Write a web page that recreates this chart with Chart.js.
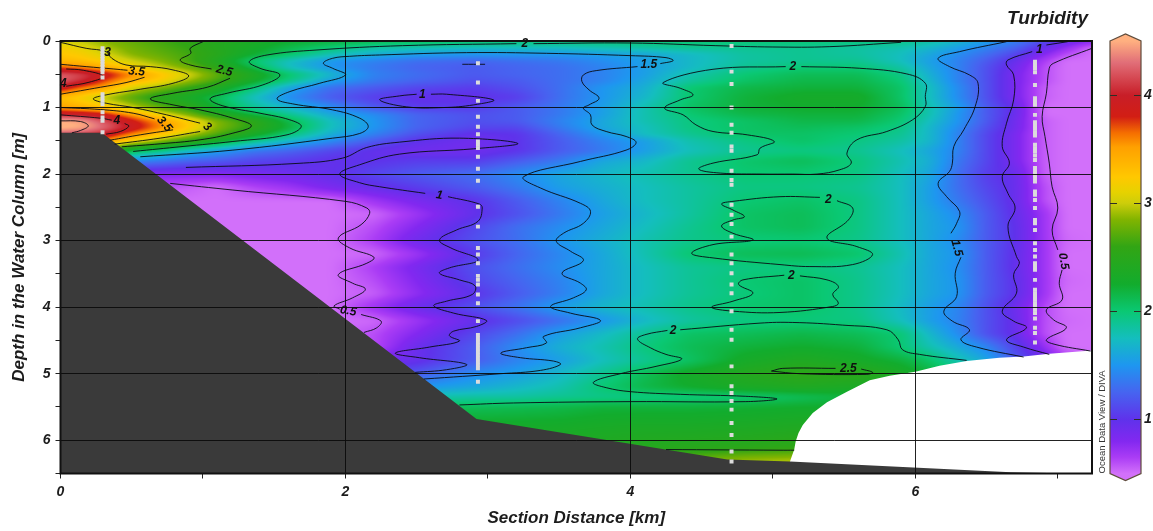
<!DOCTYPE html>
<html>
<head>
<meta charset="utf-8">
<title>Turbidity section</title>
<script src="https://cdn.jsdelivr.net/npm/chart.js@4"></script>
<style>
  html, body { margin: 0; background: #fff; }
  canvas { display: block; filter: blur(0.35px); }
</style>
</head>
<body>
<canvas id="section-chart" width="1153" height="531"></canvas>
<script>
// km / m positions of the hand read turbidity grid
const distances = [0, .15, .3, .5, .7, .9, 1.1, 1.35, 1.6, 1.9, 2.2, 2.5, 2.9, 3.2, 3.5, 3.8, 4.1, 4.4, 4.8, 5.2, 5.6, 5.9, 6.1, 6.3, 6.5, 6.7, 6.9, 7.05, 7.24];
const depths = [0, .1, .2, .3, .4, .5, .6, .7, .85, 1, 1.1, 1.2, 1.3, 1.4, 1.5, 1.65, 1.8, 2, 2.2, 2.4, 2.6, 2.8, 3, 3.2, 3.4, 3.6, 3.8, 4, 4.2, 4.4, 4.6, 4.8, 5, 5.2, 5.35, 5.5, 5.8, 6.1, 6.3];
const turbidity = [
  [3,2.95,2.85,2.75,2.65,2.55,2.45,2.35,2.25,2.2,2.15,2.1,2.05,2,2,2,2,2,2,2,1.98,1.95,1.85,1.7,1.55,1.4,1.15,.95,.8],
  [3.2,3.1,2.95,2.8,2.7,2.6,2.45,2.3,2.15,2,1.85,1.8,1.75,1.75,1.75,1.8,1.85,1.9,1.9,1.9,1.85,1.8,1.7,1.55,1.4,1.25,.95,.75,.5],
  [3.25,3.2,3.05,2.85,2.75,2.65,2.5,2.25,2.05,1.8,1.65,1.55,1.5,1.5,1.5,1.55,1.6,1.7,1.85,1.9,1.85,1.75,1.6,1.45,1.3,1.1,.8,.6,.5],
  [3.35,3.3,3.2,3,2.85,2.65,2.4,2,1.75,1.5,1.4,1.3,1.25,1.3,1.35,1.45,1.55,1.7,1.85,1.9,1.9,1.75,1.55,1.4,1.2,.95,.65,.5,.5],
  [3.7,3.6,3.45,3.2,3,2.8,2.55,2.15,1.75,1.5,1.35,1.25,1.2,1.25,1.3,1.4,1.55,1.7,1.9,2,2,1.85,1.6,1.4,1.15,.9,.6,.5,.5],
  [4.25,4.15,3.95,3.6,3.3,3.05,2.75,2.4,2.05,1.7,1.4,1.3,1.2,1.25,1.3,1.4,1.55,1.8,2,2.1,2.1,1.95,1.65,1.4,1.15,.85,.6,.5,.5],
  [4.25,4.05,3.75,3.4,3.2,2.9,2.65,2.3,1.95,1.55,1.35,1.25,1.15,1.2,1.3,1.4,1.6,1.85,2.05,2.15,2.15,2,1.7,1.4,1.15,.85,.6,.5,.5],
  [3.95,3.65,3.5,3.05,2.85,2.6,2.4,2,1.6,1.3,1.2,1.1,1.05,1.15,1.3,1.5,1.65,2,2.15,2.2,2.2,2.05,1.75,1.45,1.15,.85,.55,.5,.5],
  [3.3,3.15,2.95,2.7,2.45,2.3,2.1,1.75,1.45,1.2,1.05,.97,.97,1.05,1.3,1.5,1.7,2,2.2,2.3,2.3,2.05,1.75,1.45,1.15,.85,.55,.5,.5],
  [3.5,3.4,3.3,3,2.75,2.55,2.2,1.9,1.7,1.45,1.2,1.05,1.05,1.2,1.35,1.55,1.8,2.05,2.2,2.25,2.25,2.1,1.8,1.55,1.2,.95,.5,.5,.5],
  [4,3.95,3.85,3.5,3.1,2.8,2.45,2.15,1.9,1.6,1.45,1.25,1.15,1.2,1.35,1.55,1.8,2,2.15,2.2,2.2,2.05,1.8,1.5,1.2,.95,.5,.5,.5],
  [4.5,4.45,4.2,3.85,3.55,3.2,2.85,2.55,2.15,1.75,1.5,1.25,1.15,1.2,1.4,1.6,1.8,1.95,2.05,2.15,2.15,2,1.75,1.5,1.2,.9,.55,.5,.5],
  [4.55,4.5,4.3,3.95,3.6,3.25,2.85,2.55,2.2,1.75,1.5,1.25,1.1,1.1,1.35,1.6,1.75,1.95,2.05,2.1,2.05,1.95,1.7,1.45,1.15,.9,.55,.5,.5],
  [4.2,4.15,4,3.6,3.3,3,2.7,2.35,2,1.65,1.4,1.15,.97,1,1.25,1.5,1.75,1.9,2.05,2.05,2,1.9,1.7,1.4,1.1,.85,.55,.5,.5],
  [3.9,3.8,3.6,3.2,2.9,2.6,2.3,1.95,1.7,1.45,1.2,1,.9,1,1.2,1.4,1.55,1.8,1.95,2.05,1.95,1.85,1.7,1.4,1.1,.85,.55,.5,.5],
  [3,3,2.8,2.1,1.95,1.7,1.55,1.35,1.25,1.1,.97,.9,.9,1,1.2,1.35,1.55,1.75,1.9,1.95,1.9,1.75,1.6,1.4,1.1,.85,.55,.5,.5],
  [1.5,1.5,1.5,1.45,1.35,1.25,1.2,1.1,1.05,.98,1,1.05,1.05,1.2,1.35,1.6,1.7,1.9,2.03,2.1,1.97,1.8,1.65,1.35,1.1,.85,.55,.5,.5],
  [.8,.8,.8,.8,.8,.8,.8,.85,.9,.98,1.1,1.2,1.3,1.45,1.6,1.7,1.8,1.9,2,2,1.95,1.75,1.6,1.3,1.05,.95,.55,.5,.5],
  [.6,.6,.6,.6,.6,.55,.5,.62,.7,.85,.95,1.05,1.2,1.35,1.55,1.65,1.75,1.85,1.95,1.95,1.9,1.75,1.55,1.3,1.1,.95,.6,.5,.5],
  [.5,.5,.5,.5,.5,.5,.5,.5,.5,.5,.7,.85,1,1.2,1.4,1.6,1.75,1.85,2,2.05,1.95,1.75,1.55,1.35,1.15,.95,.6,.5,.5],
  [.5,.5,.5,.5,.5,.5,.5,.5,.5,.5,.52,.7,.97,1.15,1.35,1.55,1.7,1.85,2.05,2.1,1.95,1.75,1.6,1.45,1.2,.97,.7,.5,.5],
  [.5,.5,.5,.5,.5,.5,.5,.5,.5,.5,.6,.8,1.1,1.3,1.45,1.6,1.75,1.9,2.05,2.1,1.95,1.75,1.6,1.5,1.2,1,.7,.5,.5],
  [.5,.5,.5,.5,.5,.5,.5,.5,.5,.5,.65,.9,1.15,1.3,1.5,1.65,1.8,1.92,1.98,2,1.93,1.75,1.6,1.45,1.2,1,.7,.52,.5],
  [.5,.5,.5,.5,.5,.5,.5,.5,.5,.5,.52,.7,1.03,1.25,1.42,1.6,1.8,2,2.1,2.12,2.03,1.8,1.6,1.5,1.2,.98,.7,.5,.5],
  [.5,.5,.5,.5,.5,.5,.5,.5,.5,.5,.65,.85,1.15,1.3,1.45,1.6,1.75,1.88,1.95,1.97,1.9,1.75,1.6,1.47,1.2,.97,.7,.5,.5],
  [.5,.5,.5,.5,.5,.5,.5,.5,.5,.5,.6,.8,1.1,1.25,1.4,1.6,1.75,1.88,2,2.05,1.92,1.75,1.6,1.5,1.2,1,.7,.52,.5],
  [.5,.5,.5,.5,.5,.5,.5,.5,.5,.5,.55,.75,1,1.2,1.38,1.6,1.75,1.88,1.98,2.05,1.92,1.75,1.6,1.5,1.2,1,.7,.5,.5],
  [.5,.5,.5,.5,.5,.5,.5,.5,.5,.5,.7,.92,1.15,1.32,1.55,1.7,1.8,1.92,2.02,2.05,1.92,1.72,1.55,1.42,1.15,.92,.62,.5,.5],
  [.5,.5,.5,.5,.5,.5,.5,.5,.5,.5,.52,.7,.95,1.12,1.3,1.5,1.7,1.85,1.95,1.98,1.95,1.75,1.55,1.4,1.15,.95,.6,.52,.5],
  [.5,.5,.5,.5,.5,.5,.5,.5,.5,.5,.6,.8,1.1,1.3,1.55,1.72,1.9,2.05,2.1,2.15,2.1,2,1.7,1.45,1.15,.95,.6,.5,.5],
  [.6,.6,.6,.6,.6,.6,.6,.6,.6,.6,.6,.93,1.2,1.45,1.65,1.8,1.97,2.1,2.2,2.25,2.2,2,1.8,1.62,1.42,1.1,.75,.5,.5],
  [.8,.8,.8,.8,.8,.8,.8,.8,.8,.8,.85,.95,1.2,1.4,1.55,1.75,1.9,2.05,2.3,2.4,2.3,2.2,2.05,1.8,1.6,1.2,.95,.7,.5],
  [1,1,1,1,1,1,1,1,1,1,1.1,1.2,1.45,1.55,1.7,1.9,2.1,2.3,2.45,2.55,2.52,2.35,2.2,2,2,2,2,2,2],
  [1.4,1.4,1.4,1.4,1.4,1.4,1.4,1.4,1.4,1.4,1.4,1.5,1.6,1.7,1.8,2,2.15,2.25,2.35,2.4,2.35,2.3,2.3,2.3,2.3,2.3,2.3,2.3,2.3],
  [1.8,1.8,1.8,1.8,1.8,1.8,1.8,1.8,1.8,1.8,1.8,1.8,1.85,1.85,1.9,1.93,1.95,1.97,2,2.1,2.2,2.2,2.2,2.2,2.2,2.2,2.2,2.2,2.2],
  [2.1,2.1,2.1,2.1,2.1,2.1,2.1,2.1,2.1,2.1,2.1,2.1,2.1,2.12,2.15,2.2,2.2,2.2,2.22,2.25,2.25,2.25,2.25,2.25,2.25,2.25,2.25,2.25,2.25],
  [2.3,2.3,2.3,2.3,2.3,2.3,2.3,2.3,2.3,2.3,2.3,2.3,2.3,2.3,2.3,2.33,2.35,2.35,2.37,2.4,2.4,2.4,2.4,2.4,2.4,2.4,2.4,2.4,2.4],
  [2.4,2.4,2.4,2.4,2.4,2.4,2.4,2.4,2.4,2.4,2.4,2.4,2.4,2.4,2.4,2.42,2.45,2.47,2.5,2.55,2.55,2.55,2.55,2.55,2.55,2.55,2.55,2.55,2.55],
  [2.6,2.6,2.6,2.6,2.6,2.6,2.6,2.6,2.6,2.6,2.6,2.6,2.6,2.6,2.6,2.6,2.65,2.75,2.9,2.95,2.95,2.95,2.95,2.95,2.95,2.95,2.95,2.95,2.95]
];

// colour bar: value, r, g, b
const paletteStops = [
  [.5,210,112,250],[.65,170,60,245],[.8,130,40,240],[1,95,50,235],[1.25,70,100,240],[1.5,30,150,240],
  [1.75,20,190,190],[2,10,200,115],[2.25,18,172,45],[2.6,50,165,20],[2.85,130,180,0],[3,205,205,10],
  [3.1,230,210,0],[3.24,255,200,0],[3.52,255,160,0],[3.65,245,110,0],[3.8,210,30,20],[4,200,30,40],
  [4.3,225,110,120],[4.5,255,176,128]
];
const colorbarTicks = [1, 2, 3, 4];

const bottomDomain = [[5.12,6.5],[5.12,6.32],[5.15,6.14],[5.16,6.02],[5.18,5.89],[5.21,5.77],[5.28,5.59],[5.38,5.43],[5.52,5.27],[5.68,5.1],[5.82,5.03],[6,4.97],[6.17,4.88],[6.36,4.81],[6.59,4.76],[6.76,4.74],[6.94,4.7],[7.24,4.65]];
const seabed = [[0,1.38],[.29,1.38],[2.92,5.68],[4.68,6.29],[5.12,6.32],[6.67,6.48],[7.1,6.5]];

// sample positions (km, then depths)
const stationKm = [.295, 2.93, 4.71, 6.84];
const stationDepths = [
  [.11,.15,.19,.23,.27,.31,.35,.39,.43,.47,.55,.8,.85,.9,.95,1.07,1.15,1.2,1.37],
  [.335,.625,.9,1.14,1.29,1.4,1.51,1.56,1.61,1.74,1.92,2.1,2.49,2.79,3.11,3.21,3.34,3.53,3.59,3.66,3.81,3.94,4.21,4.42,4.47,4.52,4.57,4.62,4.67,4.72,4.77,4.82,4.87,4.92,5.12],
  [.075,.46,.645,1,1.26,1.38,1.585,1.65,1.95,2.09,2.16,2.46,2.61,2.75,2.94,3.21,3.34,3.49,3.66,3.79,4.06,4.34,4.49,4.89,5.19,5.29,5.41,5.54,5.74,5.92,6.17,6.32],
  [.31,.36,.41,.47,.66,.86,.91,.96,1.11,1.22,1.27,1.32,1.37,1.42,1.56,1.61,1.66,1.72,1.79,1.91,1.96,2.01,2.06,2.11,2.26,2.31,2.39,2.51,2.69,2.74,2.84,3.04,3.14,3.24,3.34,3.39,3.44,3.59,3.74,3.79,3.84,3.89,3.94,3.99,4.04,4.09,4.17,4.31,4.39,4.53]
];

// contour lines, broken where a label sits
const contourLines = [
  // 4.5
  [[0,1.2],[.14,1.21],[.195,1.275],[.14,1.345],[.08,1.38]],
  // 4
  [[.04,.42],[.16,.44],[.3,.53],[.2,.62],[.04,.68]],
  [[0,1.11],[.28,1.16],[.36,1.19]],
  [[.45,1.24],[.48,1.28],[.42,1.36],[.32,1.4]],
  // 3.5
  [[0,.35],[.18,.385],[.37,.42],[.47,.44]],
  [[.59,.545],[.46,.625],[.28,.695],[0,.8]],
  [[0,1],[.28,1.03],[.51,1.085],[.66,1.17]],
  [[.79,1.335],[.56,1.41],[.35,1.49]],
  // 3
  [[0,.02],[.18,.11],[.32,.16],[.36,.26],[.46,.36],[.63,.385],[.79,.435],[.9,.525],[.79,.635],[.56,.725],[.32,.81],[.23,.87],[.32,.935],[.51,1],[.745,1.11],[.98,1.235]],
  [[.98,1.36],[.7,1.46],[.38,1.55]],
  // 2.5
  [[1,.01],[.91,.11],[.915,.185],[.84,.285],[.91,.36],[1.06,.42]],
  [[1.19,.56],[1.03,.695],[.79,.785],[.63,.87],[.79,.96],[.98,1.035],[1.21,1.16],[1.34,1.275],[1.21,1.385],[.98,1.485],[.7,1.545],[.43,1.59]],
  [[4.99,4.96],[5.07,4.92],[5.44,4.92]],
  [[5.62,4.93],[5.7,4.98],[5.66,5.01],[5.19,5],[4.99,4.96]],
  [[4.25,6.14],[5.05,6.15],[5.15,6.15]],
  // 2
  [[.51,1.66],[.86,1.585],[1.21,1.51],[1.59,1.41],[1.69,1.285],[1.61,1.185],[1.4,1.085],[1.14,.975],[1.05,.87],[1.17,.785],[1.42,.66],[1.54,.51],[1.4,.41],[1.325,.31],[1.45,.21],[1.8,.135],[2.4,.07],[3.2,.04]],
  [[3.32,.04],[4,.03],[4.6,.07],[5,.09],[5.4,.085],[5.9,.02]],
  [[5.09,.385],[4.58,.425],[4.23,.625],[4.35,.71],[4.44,.81],[4.35,.885],[4.24,1.01],[4.37,1.11],[4.46,1.26],[4.58,1.36],[4.82,1.41],[5.01,1.51],[4.91,1.61],[4.89,1.71],[4.58,1.835],[4.48,1.925],[4.63,1.985],[4.93,2],[5.14,2],[5.31,2],[5.47,1.935],[5.55,1.835],[5.52,1.685],[5.59,1.485],[5.8,1.36],[5.98,1.185],[6.07,.985],[6.07,.835],[6.07,.635],[5.94,.495],[5.61,.41],[5.2,.385]],
  [[5.33,2.35],[5.05,2.34],[4.72,2.41],[4.64,2.45],[4.72,2.54],[4.8,2.64],[4.72,2.69],[4.64,2.78],[4.72,2.89],[4.86,2.99],[4.58,3.06],[4.43,3.19],[4.58,3.26],[5.05,3.36],[5.26,3.39],[5.56,3.36],[5.7,3.21],[5.59,3.09],[5.38,2.96],[5.53,2.69],[5.56,2.51],[5.45,2.4]],
  [[5.08,3.52],[4.79,3.59],[4.76,3.66],[4.86,3.79],[4.72,3.91],[4.57,4],[4.72,4.06],[5.05,4.08],[5.42,3.99],[5.46,3.94],[5.42,3.81],[5.46,3.69],[5.38,3.59],[5.19,3.53]],
  [[4.26,4.35],[4.11,4.41],[4.05,4.48],[4.14,4.61],[4.25,4.71],[4.36,4.78],[4.18,4.89],[3.93,5],[3.74,5.13],[3.83,5.21],[4,5.27],[4.35,5.31],[4.81,5.34],[5.03,5.38],[4.81,5.42],[4,5.42],[3.18,5.44],[2.8,5.47]],
  [[4.35,4.34],[4.91,4.24],[5.14,4.23],[5.49,4.27],[5.8,4.34],[5.88,4.49],[5.91,4.64],[6.03,4.71],[6.36,4.8]],
  // 1.5
  [[.56,1.74],[1.21,1.64],[1.91,1.46],[2.1,1.39],[2.16,1.285],[2.1,1.16],[1.91,1.035],[1.63,.945],[1.52,.87],[1.61,.76],[1.82,.635],[2,.51],[1.91,.41],[1.845,.335],[1.91,.26],[2.03,.23],[2.24,.21],[2.85,.175],[3.41,.185],[4,.22],[4.25,.25],[4.3,.295],[4.21,.34]],
  [[4.05,.385],[3.76,.445],[3.67,.51],[3.66,.61],[3.71,.735],[3.78,.86],[3.71,.96],[3.67,1.01],[3.72,1.11],[3.73,1.26],[3.83,1.36],[3.97,1.435],[4.04,1.525],[3.97,1.64],[3.65,1.81],[3.25,2.04],[3.37,2.21],[3.65,2.44],[3.72,2.56],[3.67,2.74],[3.53,2.89],[3.48,3.01],[3.58,3.16],[3.67,3.3],[3.52,3.49],[3.65,3.64],[3.69,3.74],[3.6,3.86],[3.44,3.99],[3.58,4.09],[3.79,4.2],[3.65,4.31],[3.39,4.44],[3.41,4.54],[3.27,4.61],[3.09,4.69],[3.23,4.76],[3.46,4.81],[3.51,4.86],[3.37,4.95],[3.09,5],[2.55,5.08]],
  [[6.64,.01],[6.31,.16],[6.16,.26],[6.24,.385],[6.38,.51],[6.44,.635],[6.42,.985],[6.34,1.335],[6.27,1.585],[6.26,1.835],[6.24,1.96],[6.16,2.14],[6.22,2.34],[6.31,2.56],[6.29,2.74],[6.25,2.89]],
  [[6.32,3.25],[6.28,3.49],[6.29,3.84],[6.2,4.06],[6.26,4.21],[6.38,4.34],[6.32,4.49],[6.43,4.6],[6.76,4.75]],
  // 1
  [[.88,1.9],[1.66,1.84],[1.98,1.76],[2.15,1.6],[2.38,1.52],[2.8,1.46],[3.21,1.54],[2.9,1.62],[2.38,1.7],[2.1,1.86],[1.96,2],[2.1,2.13],[2.24,2.19],[2.56,2.29]],
  [[2.72,2.34],[2.94,2.45],[2.96,2.51],[2.93,2.71],[2.78,2.84],[2.66,2.99],[2.74,3.11],[2.93,3.29],[2.73,3.41],[2.66,3.49],[2.8,3.59],[2.91,3.68],[2.89,3.81],[2.71,3.91],[2.62,3.98],[2.76,4.09],[2.99,4.2],[2.92,4.29],[2.76,4.36],[2.73,4.43],[2.8,4.51],[2.59,4.6],[2.35,4.69],[2.52,4.76],[2.85,4.86],[2.71,4.94],[2.49,4.98]],
  [[2.5,.8],[2.38,.825],[2.24,.885],[2.43,.99],[2.69,1],[2.9,.96],[3.04,.885],[2.71,.8],[2.6,.8]],
  [[2.82,.35],[2.98,.35]],
  [[7.07,.01],[6.92,.06]],
  [[6.82,.16],[6.65,.285],[6.64,.36],[6.69,.51],[6.69,.885],[6.64,1.235],[6.61,1.585],[6.66,1.835],[6.61,2.04],[6.65,2.29],[6.7,2.51],[6.65,2.79],[6.71,3.24],[6.73,3.34],[6.69,3.51],[6.71,3.79],[6.61,4.06],[6.69,4.21],[6.78,4.31],[6.64,4.49],[6.76,4.6],[6.94,4.71]],
  // 0.5
  [[.77,2.14],[1.21,2.24],[2,2.41],[2.15,2.51],[2.17,2.59],[2.11,2.76],[1.95,2.96],[2.03,3.11],[2.2,3.25],[2.15,3.34],[1.95,3.51],[2.05,3.64],[2.14,3.73],[2.05,3.86],[1.92,3.98],[1.96,4.03]],
  [[2.11,4.11],[2.25,4.21],[2.22,4.31],[2.13,4.38]],
  [[7.24,.11],[6.97,.335],[6.94,.41],[6.92,.785],[6.89,1.135],[6.91,1.435],[6.94,1.835],[6.96,2.19],[7,2.51],[6.96,2.84],[7,3.14]],
  [[7.03,3.44],[7.01,3.64],[7.03,3.89],[6.92,4.04],[6.97,4.19],[7.06,4.31],[6.92,4.49],[6.98,4.56],[7.23,4.66]]
];
// text, km, depth, rotation in degrees
const contourLabels = [
  ['3', .33, .17, 0], ['3.5', .535, .46, 5], ['4', .02, .64, 0], ['2.5', 1.15, .45, 15],
  ['4', .395, 1.2, 0], ['3.5', .73, 1.25, 50], ['3', 1.03, 1.29, 40], ['1', 2.54, .8, 0],
  ['1.5', 4.13, .36, 0], ['2', 3.26, .045, 0], ['1', 2.66, 2.32, 10], ['0.5', 2.02, 4.06, 10],
  ['2', 5.14, .385, 0], ['2', 5.39, 2.39, 0], ['2', 5.13, 3.52, 0], ['2', 4.3, 4.35, 0],
  ['2.5', 5.53, 4.93, 0], ['1.5', 6.29, 3.11, 75], ['0.5', 7.04, 3.31, 80], ['1', 6.87, .13, 0]
];

const fontName = '"Liberation Sans", Arial, sans-serif';
const textColor = '#1c1c1c';
const gridColor = 'rgba(10, 10, 10, 0.9)';

function toPoints(pairs) {
  return pairs.map(p => ({ x: p[0], y: p[1] }));
}

function bracket(list, v) {
  let i = 0;
  while (i < list.length - 2 && list[i + 1] < v) i++;
  const t = Math.min(1, Math.max(0, (v - list[i]) / (list[i + 1] - list[i])));
  return [i, t];
}

function paletteColor(v) {
  if (v <= paletteStops[0][0]) return paletteStops[0].slice(1);
  for (let i = 1; i < paletteStops.length; i++) {
    const a = paletteStops[i - 1], b = paletteStops[i];
    if (v <= b[0]) {
      const t = (v - a[0]) / (b[0] - a[0]);
      return [a[1] + (b[1] - a[1]) * t, a[2] + (b[2] - a[2]) * t, a[3] + (b[3] - a[3]) * t];
    }
  }
  return paletteStops[paletteStops.length - 1].slice(1);
}

// running average along one direction, edges clamped
function smoothField(field, w, h, step, span, count, radius) {
  const line = new Float32Array(count);
  for (let s = 0; s < span; s++) {
    const base = s * (step === 1 ? w : 1);
    for (let i = 0; i < count; i++) line[i] = field[base + i * step];
    for (let i = 0; i < count; i++) {
      let sum = 0;
      for (let j = -radius; j <= radius; j++) sum += line[Math.min(count - 1, Math.max(0, i + j))];
      field[base + i * step] = sum / (2 * radius + 1);
    }
  }
}

// paints the grid under the datasets, each pixel looked up through the chart scales
const sectionField = {
  id: 'sectionField',
  beforeDatasetsDraw(chart) {
    const { ctx, chartArea, scales } = chart;
    const left = Math.floor(chartArea.left), top = Math.floor(chartArea.top);
    const w = Math.ceil(chartArea.right) - left, h = Math.ceil(chartArea.bottom) - top;
    const field = new Float32Array(w * h);
    const cols = [];
    for (let px = 0; px < w; px++) cols.push(bracket(distances, scales.x.getValueForPixel(left + px + 0.5)));
    for (let py = 0; py < h; py++) {
      const [r, rt] = bracket(depths, scales.y.getValueForPixel(top + py + 0.5));
      for (let px = 0; px < w; px++) {
        const [c, ct] = cols[px];
        field[py * w + px] = (turbidity[r][c] * (1 - ct) + turbidity[r][c + 1] * ct) * (1 - rt)
                           + (turbidity[r + 1][c] * (1 - ct) + turbidity[r + 1][c + 1] * ct) * rt;
      }
    }
    for (let pass = 0; pass < 2; pass++) {
      smoothField(field, w, h, 1, h, w, 6);
      smoothField(field, w, h, w, w, h, 2);
    }
    const img = new ImageData(w, h);
    for (let k = 0; k < w * h; k++) {
      const rgb = paletteColor(field[k]);
      img.data[k * 4] = rgb[0];
      img.data[k * 4 + 1] = rgb[1];
      img.data[k * 4 + 2] = rgb[2];
      img.data[k * 4 + 3] = 255;
    }
    ctx.putImageData(img, left, top);
  }
};

const sectionOverlay = {
  id: 'sectionOverlay',
  afterDraw(chart) {
    const { ctx, chartArea, scales } = chart;
    const yc = scales.colorbar;
    ctx.save();

    // contour labels
    ctx.fillStyle = '#101010';
    ctx.font = 'italic bold 12px ' + fontName;
    ctx.textAlign = 'center';
    ctx.textBaseline = 'middle';
    contourLabels.forEach(l => {
      ctx.save();
      ctx.translate(scales.x.getPixelForValue(l[1]), scales.y.getPixelForValue(l[2]));
      ctx.rotate(l[3] * Math.PI / 180);
      ctx.fillText(l[0], 0, 0);
      ctx.restore();
    });

    // plot frame
    ctx.strokeStyle = '#111';
    ctx.lineWidth = 2;
    ctx.strokeRect(chartArea.left, chartArea.top, chartArea.right - chartArea.left, chartArea.bottom - chartArea.top);

    // colour bar with pointed ends
    const barL = 1110, barR = 1141, barM = (barL + barR) / 2;
    const yTop = yc.getPixelForValue(4.5), yBot = yc.getPixelForValue(0.5);
    const grad = ctx.createLinearGradient(0, yBot, 0, yTop);
    paletteStops.forEach(s => {
      grad.addColorStop((s[0] - 0.5) / 4, 'rgb(' + s[1] + ',' + s[2] + ',' + s[3] + ')');
    });
    ctx.beginPath();
    ctx.moveTo(barL, yTop);
    ctx.lineTo(barM, yTop - 7);
    ctx.lineTo(barR, yTop);
    ctx.lineTo(barR, yBot);
    ctx.lineTo(barM, yBot + 7);
    ctx.lineTo(barL, yBot);
    ctx.closePath();
    ctx.fillStyle = grad;
    ctx.fill();
    ctx.strokeStyle = '#5f4c3c';
    ctx.lineWidth = 1.2;
    ctx.stroke();
    ctx.strokeStyle = '#2e2e26';
    colorbarTicks.forEach(v => {
      const y = Math.round(yc.getPixelForValue(v)) + 0.5;
      ctx.beginPath();
      ctx.moveTo(barL, y);
      ctx.lineTo(barL + 7, y);
      ctx.moveTo(barR - 7, y);
      ctx.lineTo(barR, y);
      ctx.stroke();
    });

    // texts around the plot
    ctx.fillStyle = textColor;
    ctx.font = 'italic bold 19px ' + fontName;
    ctx.textAlign = 'right';
    ctx.fillText('Turbidity', 1088, 19);

    ctx.save();
    ctx.translate(1102, chartArea.bottom);
    ctx.rotate(-Math.PI / 2);
    ctx.font = '9.5px ' + fontName;
    ctx.textAlign = 'left';
    ctx.fillStyle = '#333';
    ctx.fillText('Ocean Data View / DIVA', 0, 0);
    ctx.restore();

    ctx.restore();
  }
};

const datasets = [];
contourLines.forEach(line => {
  datasets.push({
    data: toPoints(line), showLine: true, tension: 0.4, pointRadius: 0, order: 3,
    borderColor: 'rgba(8, 12, 20, 0.9)', borderWidth: 1, fill: false
  });
});
stationKm.forEach((km, i) => {
  datasets.push({
    data: stationDepths[i].map(d => ({ x: km, y: d })), showLine: false, order: 2,
    pointStyle: 'rect', pointRadius: 2.8, backgroundColor: '#dcdcdc', borderWidth: 0
  });
});
datasets.push({
  data: toPoints(seabed), showLine: true, tension: 0, pointRadius: 0, order: 5,
  borderWidth: 0, borderColor: '#3a3a3a', backgroundColor: '#3a3a3a', fill: { value: 6.5 }
});
datasets.push({
  data: toPoints(bottomDomain), showLine: true, tension: 0, pointRadius: 0, order: 6,
  borderWidth: 0, borderColor: '#fff', backgroundColor: '#fff', fill: { value: 6.5 }
});

const tickFont = { family: fontName, size: 14, style: 'italic', weight: 'bold' };
const axisTitleFont = { family: fontName, size: 17, style: 'italic', weight: 'bold' };

// the axes keep fixed sizes so the plot area does not move with the labels
function fixAxis(size) {
  return s => {
    if (s.isHorizontal()) s.height = size; else s.width = size;
    s.paddingTop = s.paddingBottom = s.paddingLeft = s.paddingRight = 0;
  };
}

new Chart(document.getElementById('section-chart'), {
  type: 'scatter',
  data: { datasets: datasets },
  plugins: [sectionField, sectionOverlay],
  options: {
    responsive: false,
    animation: false,
    layout: { padding: { top: 41 } },
    plugins: { legend: { display: false }, tooltip: { enabled: false } },
    scales: {
      x: {
        type: 'linear', min: 0, max: 7.24,
        afterFit: fixAxis(57.5),
        grid: {
          z: 1, tickLength: 5, tickColor: '#222',
          color: c => (c.tick && c.tick.value % 2 === 0 ? gridColor : 'rgba(0,0,0,0)')
        },
        border: { display: false },
        ticks: {
          stepSize: 1, includeBounds: false, autoSkip: false, maxRotation: 0, padding: 5,
          color: textColor, font: tickFont,
          callback: v => (v % 2 === 0 ? String(v) : '')
        },
        title: { display: true, text: 'Section Distance [km]', color: textColor, font: axisTitleFont, padding: { top: 0, bottom: 2 } }
      },
      y: {
        type: 'linear', reverse: true, min: 0, max: 6.5,
        afterFit: fixAxis(60.5),
        grid: {
          z: 1, tickLength: 5, tickColor: '#222',
          color: c => (c.tick && Number.isInteger(c.tick.value) ? gridColor : 'rgba(0,0,0,0)')
        },
        border: { display: false },
        ticks: {
          stepSize: 0.5, autoSkip: false, padding: 5, color: textColor, font: tickFont,
          callback: v => (Number.isInteger(v) ? String(v) : '')
        },
        title: { display: true, text: 'Depth in the Water Column [m]', color: textColor, font: axisTitleFont, padding: { top: 9, bottom: 0 } }
      },
      colorbar: {
        type: 'linear', position: 'right', min: 0.5, max: 4.5,
        afterFit: fixAxis(61),
        afterBuildTicks: s => { s.ticks = colorbarTicks.map(v => ({ value: v })); },
        grid: { display: false, drawTicks: false },
        border: { display: false },
        ticks: { padding: 52, color: textColor, font: tickFont }
      }
    }
  }
});
</script>
</body>
</html>
